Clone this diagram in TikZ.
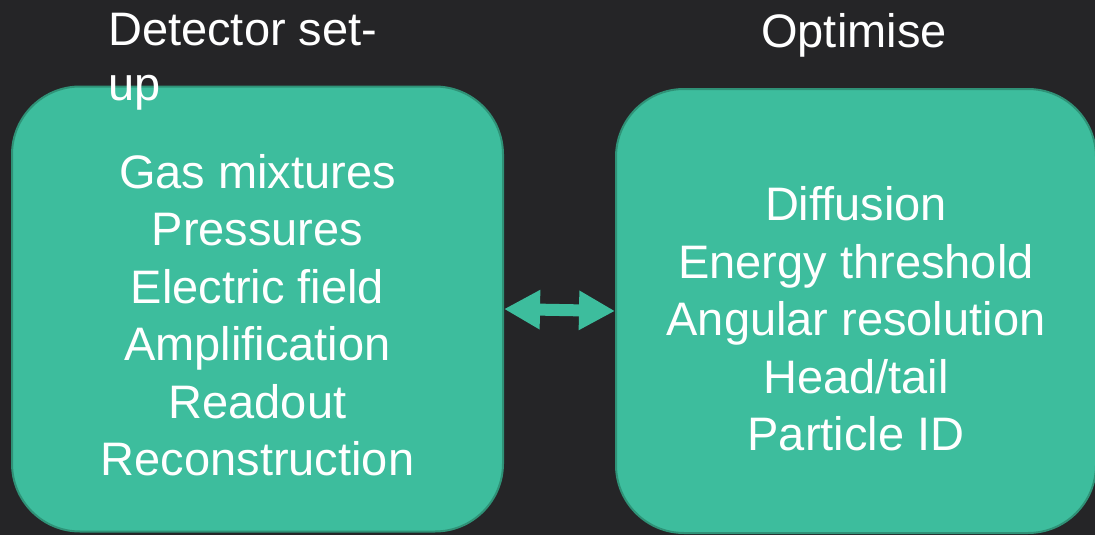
\documentclass[tikz,border=0pt]{standalone}
\usepackage{fontspec}
\setmainfont{Liberation Sans}
\usetikzlibrary{arrows.meta}
\definecolor{slate}{HTML}{252527}
\definecolor{mint}{HTML}{3DBD9D}
\definecolor{mintdark}{HTML}{2F9277}

\begin{document}
\begin{tikzpicture} [x=1pt,y=-1pt,text=white]
  \tikzstyle{box}=[rectangle,rounded corners=68pt,fill=mint,draw=mintdark,line width=2pt,inner sep=0pt]
  \tikzstyle{list}=[align=center,inner sep=0pt, font=\fontsize{47}{57.5}\selectfont]
  \tikzstyle{head}=[align=left,inner sep=0pt, font=\fontsize{47}{55}\selectfont]

  \fill[slate] (0,0) rectangle (1095,535);
  \useasboundingbox (0,0) rectangle (1095,535);

  \node[box, minimum width=491pt, minimum height=445pt] (setup) at (257.5,309) {};
  \node[box, minimum width=480pt, minimum height=444pt] (optim) at (856,311) {};

  \node[list] (setup-list) at ([yshift=-6pt]setup.center) {Gas mixtures\\Pressures\\Electric field\\Amplification\\Readout\\Reconstruction};
  \node[list] (optim-list) at ([yshift=-8pt]optim.center) {Diffusion\\Energy threshold\\Angular resolution\\Head/tail\\Particle ID};

  \node[head, anchor=base west] (ts) at (108,100) {Detector set-\\up};
  \node[head, anchor=base] (to) at (854,48) {Optimise};

  \draw[mint, line width=12pt, {Triangle[length=36pt,width=37pt]}-{Triangle[length=36pt,width=37pt]}] (setup.east) -- (optim.west);

\end{tikzpicture}
\end{document}
